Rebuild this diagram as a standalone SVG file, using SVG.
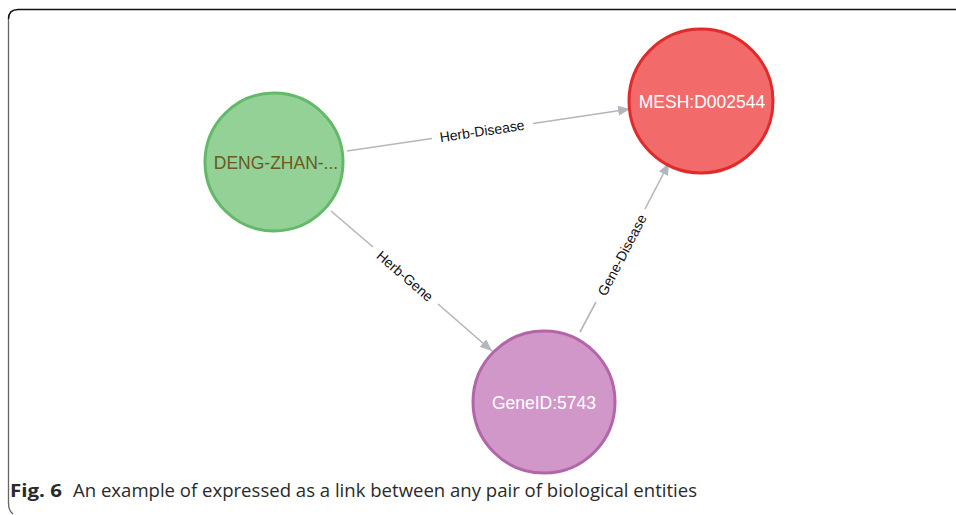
<svg xmlns="http://www.w3.org/2000/svg" width="956" height="515" viewBox="0 0 956 515">
  <style>
    .edge { stroke: #b4b6bd; stroke-width: 1.6; fill: none; }
    .elabel { font-family: "Liberation Sans", Arial, sans-serif; font-size: 14px; fill: #111; text-anchor: middle; dominant-baseline: central; }
    .nlabel { font-family: "Liberation Sans", Arial, sans-serif; font-size: 17.5px; text-anchor: middle; dominant-baseline: central; }
    .caption { font-family: "Open Sans", "Liberation Sans", sans-serif; font-size: 18px; fill: #2a2a2a; }
  </style>
  <defs>
    <marker id="arrow" viewBox="0 0 12 10" refX="12" refY="5" markerWidth="12" markerHeight="10" markerUnits="userSpaceOnUse" orient="auto">
      <path d="M0,0 L12,5 L0,10 Z" fill="#b4b6bd"/>
    </marker>
  </defs>
  <rect width="956" height="515" fill="#ffffff"/>

  <!-- frame -->
  <path d="M956,9.5 H18 Q8.5,9.5 8.5,19" fill="none" stroke="#111" stroke-width="1.5"/>
  <path d="M8.5,19 V503 Q8.5,511 13,514" fill="none" stroke="#666" stroke-width="1.3"/>

  <!-- connectors -->
  <g id="connectors">
    <g id="edge-herb-disease">
      <line class="edge" x1="347" y1="151" x2="432" y2="138.5"/>
      <line class="edge" x1="533" y1="123.5" x2="630" y2="109" marker-end="url(#arrow)"/>
      <text class="elabel" x="482" y="131" transform="rotate(-8.4 482 131)">Herb-Disease</text>
    </g>
    <g id="edge-herb-gene">
      <line class="edge" x1="331" y1="211" x2="373" y2="247"/>
      <line class="edge" x1="438" y1="304" x2="492" y2="351" marker-end="url(#arrow)"/>
      <text class="elabel" x="405" y="276" transform="rotate(40.6 405 276)">Herb-Gene</text>
    </g>
    <g id="edge-gene-disease">
      <line class="edge" x1="580" y1="332" x2="596" y2="302"/>
      <line class="edge" x1="645" y1="209" x2="669" y2="163" marker-end="url(#arrow)"/>
      <text class="elabel" x="622" y="255" transform="rotate(-62.5 622 255)">Gene-Disease</text>
    </g>
  </g>

  <!-- nodes -->
  <g id="node-herb">
    <circle cx="274" cy="162" r="69" fill="#93d196" stroke="#63b969" stroke-width="3"/>
    <text class="nlabel" x="276" y="163" fill="#6b5a22">DENG-ZHAN-...</text>
  </g>
  <g id="node-disease">
    <circle cx="701" cy="101" r="72" fill="#f26a6a" stroke="#e12a2a" stroke-width="3"/>
    <text class="nlabel" x="702" y="102" fill="#ffffff">MESH:D002544</text>
  </g>
  <g id="node-gene">
    <circle cx="544" cy="402" r="71" fill="#d197c9" stroke="#b365a9" stroke-width="3"/>
    <text class="nlabel" x="544" y="403" fill="#ffffff">GeneID:5743</text>
  </g>

  <!-- caption -->
  <g id="caption">
    <text class="caption" x="10" y="497" font-weight="bold" fill="#111" textLength="52" lengthAdjust="spacingAndGlyphs">Fig. 6</text>
    <text class="caption" x="73" y="497" textLength="624" lengthAdjust="spacingAndGlyphs">An example of expressed as a link between any pair of biological entities</text>
  </g>
</svg>
